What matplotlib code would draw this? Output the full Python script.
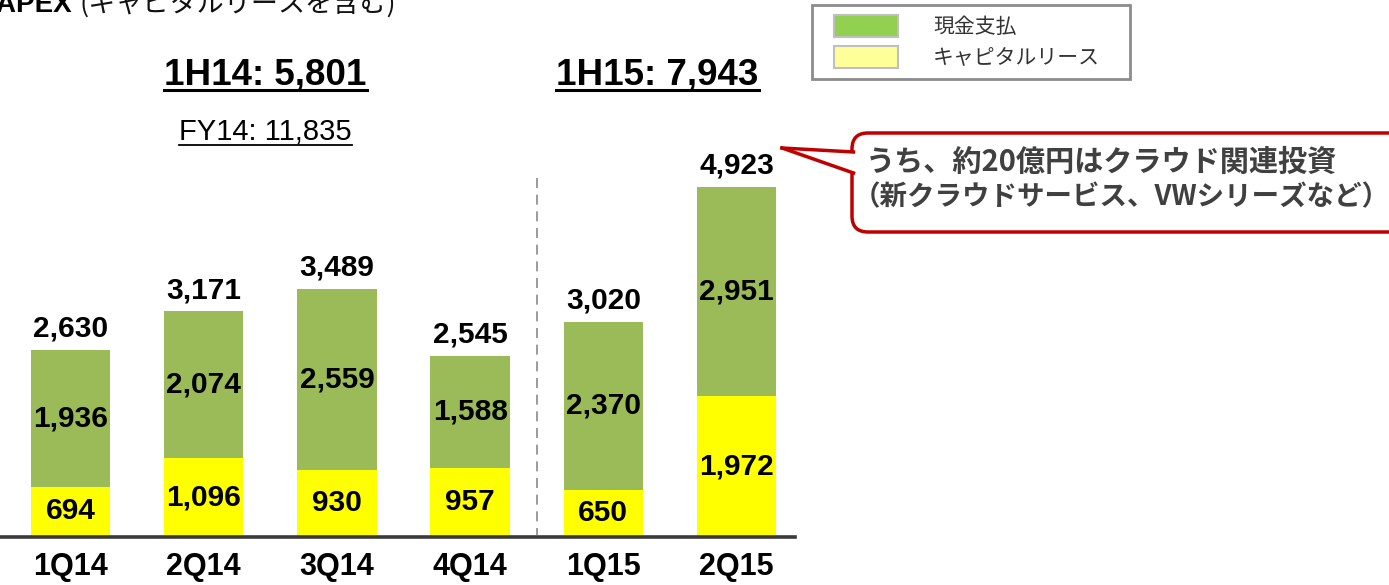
import matplotlib
matplotlib.use("Agg")
import matplotlib.pyplot as plt
from matplotlib import transforms
from matplotlib.patches import Rectangle, FancyBboxPatch, Polygon
from matplotlib.lines import Line2D

# ---- data ----
categories = ['1Q14', '2Q14', '3Q14', '4Q14', '1Q15', '2Q15']
lease = [694, 1096, 930, 957, 650, 1972]          # キャピタルリース
cash = [1936, 2074, 2559, 1588, 2370, 2951]       # 現金支払
totals = [2630, 3171, 3489, 2545, 3020, 4923]
series_names = ['現金支払', 'キャピタルリース']
half_titles = ['1H14: 5,801', '1H15: 7,943']
fy_note = 'FY14: 11,835'
title_bold = 'CAPEX'
title_rest = '(キャピタルリースを含む)'
callout_lines = ['うち、約20億円はクラウド関連投資', '（新クラウドサービス、VWシリーズなど）']

W, H = 1389, 585
fig = plt.figure(figsize=(W / 100, H / 100), dpi=100)
fig.patch.set_facecolor('white')

LAT = ['Liberation Sans', 'Noto Sans CJK JP']
JP = ['Noto Sans CJK JP', 'Liberation Sans']

# pixel (from top-left) transform
pix = transforms.Affine2D().scale(1 / W, -1 / H).translate(0, 1) + fig.transFigure

ax = fig.add_axes([0, 0, 1, 1])
ax.axis('off')
step = 133.2            # px per category
x0px = 70.5             # center of first bar
yscale = 0.0709         # px per unit
base_px = 536
ax.set_xlim(-x0px / step, (W - x0px) / step)
ax.set_ylim(-(H - base_px) / yscale, base_px / yscale)

GREEN = '#9bbb59'
YELLOW = '#ffff00'
xs = list(range(len(categories)))
bw = 0.595
ax.bar(xs, lease, width=bw, color=YELLOW, zorder=2)
ax.bar(xs, cash, bottom=lease, width=bw, color=GREEN, zorder=2)

lab_kw = dict(family=LAT, fontweight='bold', fontsize=21.5, color='black',
              ha='center', va='center', zorder=4)
for i in xs:
    ax.text(i, lease[i] / 2, f'{lease[i]:,}', **lab_kw)
    ax.text(i, lease[i] + cash[i] / 2, f'{cash[i]:,}', **lab_kw)
    ax.annotate(f'{totals[i]:,}', (i, totals[i]), xytext=(0, 7),
                textcoords='offset pixels', ha='center', va='bottom',
                family=LAT, fontweight='bold', fontsize=21.5, color='black')
    ax.annotate(categories[i], (i, 0), xytext=(0, -31), textcoords='offset pixels',
                ha='center', va='center', family=LAT, fontweight='bold',
                fontsize=22, color='black')

# baseline
fig.add_artist(Line2D([0, 795], [536.5, 536.5], transform=pix, color='#3a3a3a', lw=2.6))
# divider
fig.add_artist(Line2D([537, 537], [178, 535], transform=pix, color='#8a8a8a', lw=1.2,
                      linestyle=(0, (6, 4))))

# top-left title (cut off at the top edge, as in the source)
fig.text(72 / W, 1 - 12 / H, title_bold, family=LAT, fontweight='bold', fontsize=20,
         ha='right', va='baseline')
fig.text(80 / W, 1 - 12 / H, title_rest, family=JP, fontsize=19.5,
         ha='left', va='baseline', color='#111111')

# half-year titles
htexts = []
for cx, s in zip([265.5, 657.5], half_titles):
    t = fig.text(cx / W, 1 - 75 / H, s, family=LAT, fontweight='bold', fontsize=26.5,
                 ha='center', va='center')
    htexts.append((t, 89.5, 2.2))
tf = fig.text(265.5 / W, 1 - 132 / H, fy_note, family=LAT, fontsize=21,
              ha='center', va='center')
htexts.append((tf, 145, 1.3))

# legend
fig.add_artist(Rectangle((812, 5), 318, 74, transform=pix, facecolor='white',
                         edgecolor='#8c8c8c', lw=2))
fig.add_artist(Rectangle((834, 15), 64, 22, transform=pix, facecolor='#92d050',
                         edgecolor='#bfbfbf', lw=1.5))
fig.add_artist(Rectangle((834, 46), 64, 22, transform=pix, facecolor='#ffff99',
                         edgecolor='#bfbfbf', lw=1.5))
for yy, s in zip([27, 58], series_names):
    fig.text(933 / W, 1 - yy / H, s, family=JP, fontsize=15, color='#333333',
             ha='left', va='center')

# callout
RED = '#c00000'
box = FancyBboxPatch((852, 133), 600, 99, boxstyle='round,pad=0,rounding_size=16',
                     transform=pix, facecolor='white', edgecolor=RED, lw=2.5, zorder=5)
fig.add_artist(box)
fig.add_artist(Polygon([(782, 148), (856, 152), (856, 173)], closed=True,
                       transform=pix, facecolor='white', edgecolor='none', zorder=6))
fig.add_artist(Line2D([782, 853.5], [148, 152], transform=pix, color=RED, lw=2.5, zorder=7))
fig.add_artist(Line2D([782, 853.5], [148, 173], transform=pix, color=RED, lw=2.5, zorder=7))
for xx, yy, fs, s in zip([866, 853], [162, 197], [21, 19.8], callout_lines):
    fig.text(xx / W, 1 - yy / H, s, family=JP, fontweight='bold', fontsize=fs,
             color='#404040', ha='left', va='center', zorder=8)

# underlines
fig.canvas.draw()
r = fig.canvas.get_renderer()
for t, uy, lw in htexts:
    bb = t.get_window_extent(r)
    fig.add_artist(Line2D([bb.x0, bb.x1], [H - uy, H - uy],
                          transform=transforms.IdentityTransform(), color='black', lw=lw))

fig.savefig('out.png', dpi=100)
